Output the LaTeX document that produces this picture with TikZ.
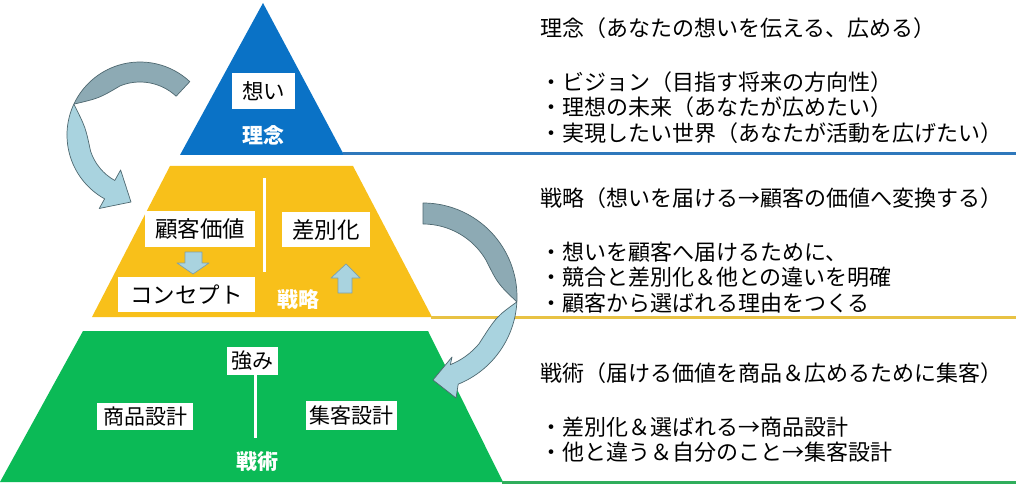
\documentclass[tikz,border=0pt]{standalone}
\usepackage{fontspec}
\setmainfont{Noto Sans CJK JP}
\usetikzlibrary{calc}
\definecolor{riblue}{HTML}{0A72C6}
\definecolor{senyel}{HTML}{F8C01A}
\definecolor{jutgrn}{HTML}{0BBA56}
\definecolor{lblue}{HTML}{2F78BC}
\definecolor{lyel}{HTML}{E8C244}
\definecolor{lgrn}{HTML}{30AE5C}
\definecolor{ribdark}{HTML}{8DAAB4}
\definecolor{riblight}{HTML}{A9D3DF}
\definecolor{ribline}{HTML}{4E6870}
\definecolor{barline}{HTML}{7FA0A8}
\begin{document}
\begin{tikzpicture}[x=1pt,y=1pt,
  wbox/.style={fill=white,inner sep=0pt,font=\fontsize{22.5}{25}\selectfont},
  gbox/.style={fill=white,inner sep=0pt,font=\fontsize{21}{24}\selectfont},
  lvl/.style={text=white,inner sep=0pt,font=\bfseries\fontsize{21}{24}\selectfont},
  rtext/.style={anchor=west,inner sep=0pt,font=\fontsize{22}{25}\selectfont},
  ribbon/.style={draw=ribline,line width=0.7pt,line join=round},
  barrow/.style={fill=riblight,draw=barline,line width=0.7pt,line join=round},
  sepline/.style={white,line width=3pt},
  rule/.style={line width=3pt}]
\useasboundingbox (0,0) rectangle (1024,-486);
\fill[white] (0,0) rectangle (1024,-486);

% pyramid levels
\fill[riblue] (263,-3) -- (344,-155) -- (180,-155) -- cycle;
\fill[senyel] (170,-166) -- (353,-166) -- (432,-317) -- (92,-317) -- cycle;
\fill[jutgrn] (83,-331) -- (428,-331) -- (503,-482) -- (0,-482) -- cycle;

% rules
\coordinate (b1) at (343,-153.5); \coordinate (e1) at (1016,-153.5);
\coordinate (b2) at (431,-317); \coordinate (e2) at (1016,-317);
\coordinate (b3) at (502,-482); \coordinate (e3) at (1016,-482);
\draw[rule,lblue] (b1) -- (e1);
\draw[rule,lyel] (b2) -- (e2);
\draw[rule,lgrn] (b3) -- (e3);

% top level
\node[wbox,font=\fontsize{21.5}{25}\selectfont,minimum width=63pt,minimum height=36pt] (omoi) at (263.5,-91) {想い};
\node[lvl] (rinen) at (263,-135) {理念};

% middle level
\draw[sepline] (264,-178) -- (264,-272);
\node[wbox,minimum width=110pt,minimum height=36pt] (kokyaku) at (200,-229) {顧客価値};
\node[wbox,minimum width=88pt,minimum height=35pt] (sabetsu) at (326,-229.5) {差別化};
\node[wbox,minimum width=137pt,minimum height=35pt] (concept) at (186.5,-294.5) {コンセプト};
\node[lvl] (senryaku) at (298,-300) {戦略};
\draw[barrow] (185,-252) -- (202,-252) -- (202,-263) -- (209,-263) -- (193,-274) -- (177,-263) -- (185,-263) -- cycle;
\draw[barrow] (338,-293) -- (352,-293) -- (352,-278) -- (360,-278) -- (346,-264) -- (331,-278) -- (338,-278) -- cycle;

% bottom level
\node[gbox,minimum width=51pt,minimum height=28pt] (tsuyomi) at (252.5,-361) {強み};
\draw[sepline] (255,-375) -- (255,-438);
\node[gbox,minimum width=96pt,minimum height=27pt] (shohin) at (145,-416.5) {商品設計};
\node[gbox,minimum width=91pt,minimum height=29pt] (shukyaku) at (351.5,-415.5) {集客設計};
\node[lvl] (senjutsu) at (257,-462) {戦術};

% left curved arrow
\coordinate (C1) at (140,-135);
\draw[ribbon,fill=ribdark] ($(C1)+(47:73pt)$) arc[start angle=47,end angle=155,radius=73pt]
  .. controls ($(C1)+(138:55pt)$) .. ($(C1)+(112:53pt)$)
  arc[start angle=112,end angle=47,radius=53pt] -- cycle;
\draw[ribbon,fill=riblight] ($(C1)+(155:73pt)$) arc[start angle=155,end angle=241,radius=73pt]
  -- ($(C1)+(241:84pt)$) -- (131,-202) -- ($(C1)+(241:40pt)$) -- ($(C1)+(241:52pt)$)
  arc[start angle=241,end angle=198,radius=52pt]
  .. controls ($(C1)+(172:55pt)$) .. ($(C1)+(155:73pt)$) -- cycle;

% right curved arrow
\coordinate (C2) at (423,-297);
\draw[ribbon,fill=ribdark] ($(C2)+(90:94pt)$) arc[start angle=90,end angle=-3,radius=94pt]
  .. controls ($(C2)+(10:76pt)$) .. ($(C2)+(30:73pt)$)
  arc[start angle=30,end angle=90,radius=73pt] -- cycle;
\draw[ribbon,fill=riblight] ($(C2)+(-3:94pt)$) arc[start angle=-3,end angle=-68,radius=94pt]
  -- (456,-398) -- (433,-380) -- (452,-357) -- ($(C2)+(-68:73pt)$)
  arc[start angle=-68,end angle=-40,radius=73pt]
  .. controls ($(C2)+(-15:76pt)$) .. ($(C2)+(-3:94pt)$) -- cycle;

% right-hand texts
\node[rtext] (t1h) at (540,-28) {理念（あなたの想いを伝える、広める）};
\node[rtext] (t1a) at (540,-82) {・ビジョン（目指す将来の方向性）};
\node[rtext] (t1b) at (540,-107.5) {・理想の未来（あなたが広めたい）};
\node[rtext] (t1c) at (540,-133) {・実現したい世界（あなたが活動を広げたい）};
\node[rtext] (t2h) at (540,-198) {戦略（想いを届ける→顧客の価値へ変換する）};
\node[rtext] (t2a) at (540,-252) {・想いを顧客へ届けるために、};
\node[rtext] (t2b) at (540,-277.5) {・競合と差別化＆他との違いを明確};
\node[rtext] (t2c) at (540,-303) {・顧客から選ばれる理由をつくる};
\node[rtext] (t3h) at (540,-373) {戦術（届ける価値を商品＆広めるために集客）};
\node[rtext] (t3a) at (540,-427) {・差別化＆選ばれる→商品設計};
\node[rtext] (t3b) at (540,-452.5) {・他と違う＆自分のこと→集客設計};
\end{tikzpicture}
\end{document}
